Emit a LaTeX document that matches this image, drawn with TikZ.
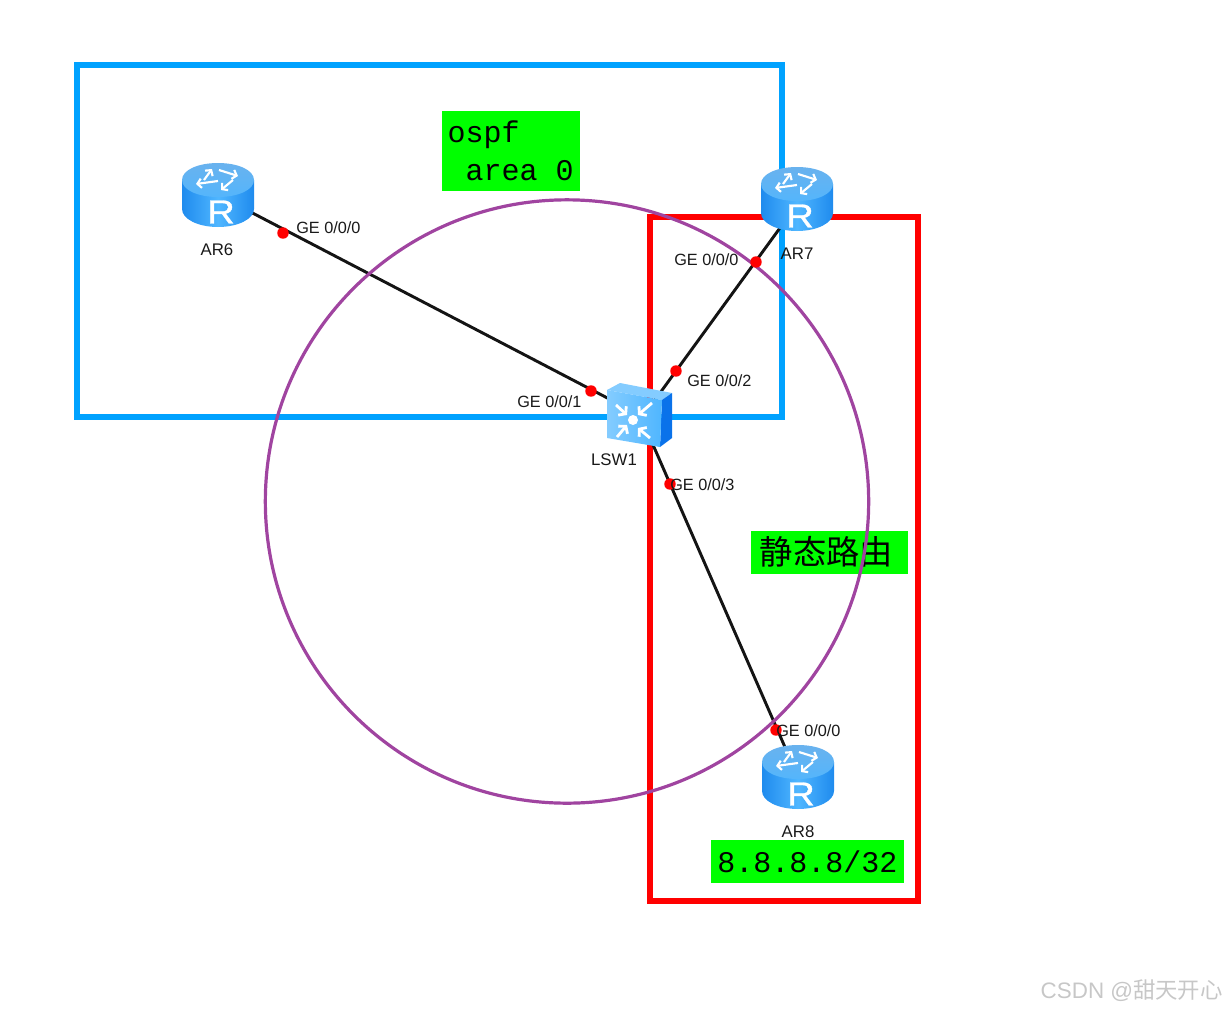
\documentclass[tikz,border=0pt]{standalone}
\usepackage{fontspec}
\usepackage{graphicx}
\setmainfont{Liberation Sans}
\newfontfamily\cjkfont{Noto Sans CJK SC}
\newfontfamily\monofont{Liberation Mono}
\newfontfamily\routerfont[FakeBold=0.8]{Liberation Sans}
\usetikzlibrary{arrows.meta}
\definecolor{bluebox}{HTML}{00A2FF}
\definecolor{redbox}{HTML}{FF0000}
\definecolor{ringcol}{HTML}{A044A0}
\definecolor{greenbg}{HTML}{00FF00}
\definecolor{linkcol}{HTML}{141414}
\definecolor{devmid}{HTML}{4FB6FF}
\definecolor{devside}{HTML}{1F8BEE}
\definecolor{devtop}{HTML}{69B2EE}
\definecolor{devdark}{HTML}{0A72EA}
\tikzset{
  x=.75pt,y=-.75pt,
  areabox/.style={miter limit=10},
  ringline/.style={draw=ringcol,line width=2.4pt},
  linkline/.style={draw=linkcol,line width=2.2pt},
  portdot/.style={circle,fill=red,inner sep=0pt,minimum size=8.6pt},
  portlabel/.style={font=\fontsize{12.2pt}{14pt}\selectfont,text=black!90,inner sep=0pt},
  devlabel/.style={font=\fontsize{12.6pt}{14pt}\selectfont,text=black!90,inner sep=0pt},
  greenbox/.style={fill=greenbg,inner sep=0pt,anchor=center},
  monotext/.style={font=\monofont\fontsize{22.5pt}{28.5pt}\selectfont},
  device/.style={inner sep=0pt,minimum width=54pt,minimum height=48pt},
  whitearrow/.style={draw=white,line width=1.6pt,-{Straight Barb[length=3pt,width=7pt]}},
  switcharrow/.style={draw=white,line width=2.1pt,-{Straight Barb[length=3.5pt,width=9pt]}},
  pics/routericon/.style={code={
    \path[left color=devside,right color=devside,middle color=devmid]
      (-36,-15) -- (-36,14) .. controls (-36,24) and (-20,32) .. (0,32)
      .. controls (20,32) and (36,24) .. (36,14) -- (36,-15) -- cycle;
    \path[top color=devtop,bottom color=devmid!80!devtop]
      (-36,-15) .. controls (-36,-25) and (-20,-32) .. (0,-32)
      .. controls (20,-32) and (36,-25) .. (36,-15)
      .. controls (36,-5) and (20,2) .. (0,2)
      .. controls (-20,2) and (-36,-5) .. (-36,-15) -- cycle;
    \draw[whitearrow] (-14,-15) -- (-6,-26);
    \draw[whitearrow] (1,-25) -- (20,-19);
    \draw[whitearrow] (15,-15) -- (3,-5);
    \draw[whitearrow] (0,-14) -- (-22,-11);
    \node[text=white,inner sep=0pt,font=\routerfont\fontsize{25pt}{25pt}\selectfont] at (3,17) {\scalebox{1.15}[1]{R}};
  }},
  pics/switchicon/.style={code={
    \fill[devmid!70!white] (-33,-25) -- (-20,-32) -- (32,-22) -- (22,-15) -- cycle;
    \fill[devdark] (22,-15) -- (32,-22) -- (32,23) -- (20,32) -- cycle;
    \path[left color=devmid!70!white,right color=devmid] (-33,-25) -- (22,-15) -- (20,32) -- (-33,23) -- cycle;
    \fill[white] (-7,5) circle[radius=5];
    \draw[switcharrow] (-24,-10) -- (-13,0);
    \draw[switcharrow] (12,-12) -- (-2,0);
    \draw[switcharrow] (-23,22) -- (-13,10);
    \draw[switcharrow] (10,23) -- (-2,13);
  }}
}
\begin{document}
\begin{tikzpicture}
\useasboundingbox (0,0) rectangle (1227,1010);
% device anchors
\node[device] (AR6) at (218,195) {};
\node[device] (AR7) at (797,199) {};
\node[device] (AR8) at (798,777) {};
\node[device,minimum width=49pt,minimum height=48pt] (LSW1) at (640,415) {};
% area frames
\draw[areabox,draw=bluebox,line width=4pt] (77,65) rectangle (782,417);
\draw[areabox,draw=redbox,line width=4.2pt] (650,217) rectangle (918,901);
% green tags
\node[greenbox,minimum width=103.5pt,minimum height=60pt,monotext,align=left,text width=95pt] (tagospf) at (511,151) {ospf\\\mbox{}\kern13.5pt area\kern13.5pt 0};
\node[greenbox,minimum width=117.75pt,minimum height=32.25pt,font=\cjkfont\fontsize{25pt}{28pt}\selectfont] (tagstatic) at (829.5,552.5) {\raisebox{2.5pt}{静态路由\kern4.5pt}};
\node[greenbox,minimum width=144.75pt,minimum height=32.25pt,monotext] (tagloop) at (807.5,861.5) {8.8.8.8/32};
% links
\draw[linkline] (AR6.center) -- (LSW1.center);
\draw[linkline] ([xshift=3pt]AR7.center) -- ([xshift=3pt]LSW1.center);
\draw[linkline] (AR8.center) -- (LSW1.center);
% ring
\node[circle,ringline,minimum size=452.5pt,inner sep=0pt] (ring) at (567,501.5) {};
% icons
\pic at (AR6.center) {routericon};
\pic at (AR7.center) {routericon};
\pic at (AR8.center) {routericon};
\pic at (LSW1.center) {switchicon};
% port dots
\node[portdot] (d1) at (283,233) {};
\node[portdot] (d2) at (591,391) {};
\node[portdot] (d3) at (676,371) {};
\node[portdot] (d4) at (756,262) {};
\node[portdot] (d5) at (670,484) {};
\node[portdot] (d6) at (776,730) {};
% labels
\node[portlabel,anchor=west] (l1) at (296,228) {GE 0/0/0};
\node[portlabel,anchor=west] (l2) at (517,402) {GE 0/0/1};
\node[portlabel,anchor=west] (l3) at (687,381) {GE 0/0/2};
\node[portlabel,anchor=west] (l4) at (674,260) {GE 0/0/0};
\node[portlabel,anchor=west] (l5) at (670,485) {GE 0/0/3};
\node[portlabel,anchor=west] (l6) at (776,731) {GE 0/0/0};
\node[devlabel] (n6) at (217,250) {AR6};
\node[devlabel] (n7) at (797,254) {AR7};
\node[devlabel] (n8) at (798,832) {AR8};
\node[devlabel] (n1) at (614,460) {LSW1};
\node[text=black!22,inner sep=0pt,anchor=east,font=\fontsize{16.8pt}{20pt}\selectfont] (wm) at (1223,991) {CSDN @{\cjkfont 甜天开心}};
\end{tikzpicture}
\end{document}
